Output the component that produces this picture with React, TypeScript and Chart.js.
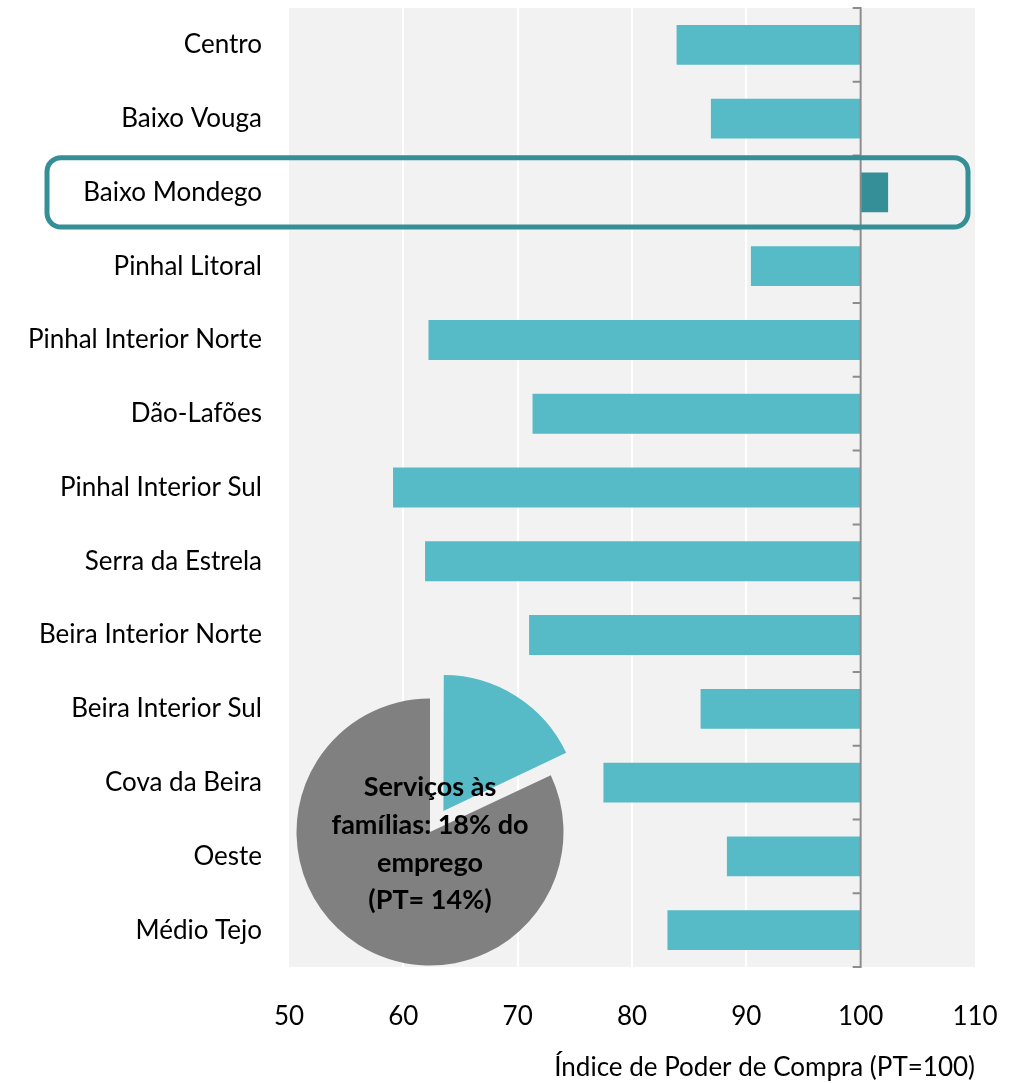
import React, { useEffect, useRef } from "react";
import { Chart, registerables } from "chart.js";

Chart.register(...registerables);

const categories = [
  "Centro",
  "Baixo Vouga",
  "Baixo Mondego",
  "Pinhal Litoral",
  "Pinhal Interior Norte",
  "Dão-Lafões",
  "Pinhal Interior Sul",
  "Serra da Estrela",
  "Beira Interior Norte",
  "Beira Interior Sul",
  "Cova da Beira",
  "Oeste",
  "Médio Tejo",
];
const indexValues = [83.9, 86.9, 102.4, 90.4, 62.2, 71.3, 59.1, 61.9, 71.0, 86.0, 77.5, 88.3, 83.1];
const baseline = 100;
const highlighted = "Baixo Mondego";
const xTicks = [50, 60, 70, 80, 90, 100, 110];
const axisTitle = "Índice de Poder de Compra (PT=100)";

const pieLabels = ["Serviços às famílias", "Outros"];
const pieValues = [18, 82];
const pieText = ["Serviços às", "famílias: 18% do", "emprego", "(PT= 14%)"];

const TEAL = "#56BBC6";
const DARK_TEAL = "#358F96";
const GREY = "#808080";
const FAMILY = "Lato, 'Open Sans', sans-serif";

export default function App() {
  const barRef = useRef<HTMLCanvasElement | null>(null);
  const pieRef = useRef<HTMLCanvasElement | null>(null);

  useEffect(() => {
    document.body.style.margin = "0";
    document.body.style.overflow = "hidden";

    const bgPlugin = {
      id: "bg",
      beforeDraw(chart: any) {
        const { ctx, chartArea } = chart;
        ctx.save();
        ctx.fillStyle = "#F2F2F2";
        ctx.fillRect(chartArea.left, chartArea.top, chartArea.right - chartArea.left, chartArea.bottom - chartArea.top);
        ctx.restore();
      },
    };

    const axisPlugin = {
      id: "axis100",
      afterDatasetsDraw(chart: any) {
        const { ctx, chartArea, scales } = chart;
        const x = scales.x.getPixelForValue(baseline);
        ctx.save();
        ctx.strokeStyle = "#8C8C8C";
        ctx.lineWidth = 2;
        ctx.beginPath();
        ctx.moveTo(x, chartArea.top);
        ctx.lineTo(x, chartArea.bottom);
        for (let i = 0; i <= categories.length; i++) {
          const y = scales.y.getPixelForValue(i - 0.5);
          ctx.moveTo(x + 1, y);
          ctx.lineTo(x - 8, y);
        }
        ctx.stroke();

        // highlight box
        const idx = categories.indexOf(highlighted);
        const yc = scales.y.getPixelForValue(idx);
        const band = Math.abs(scales.y.getPixelForValue(1) - scales.y.getPixelForValue(0));
        const half = band * 0.47;
        const left = 47;
        const right = chartArea.right - 7;
        ctx.strokeStyle = DARK_TEAL;
        ctx.lineWidth = 5;
        ctx.beginPath();
        (ctx as any).roundRect(left, yc - half, right - left, half * 2, 14);
        ctx.stroke();
        ctx.restore();
      },
    };

    const font = { family: FAMILY, size: 26 };

    const bar = new Chart(barRef.current as HTMLCanvasElement, {
      type: "bar",
      data: {
        labels: categories,
        datasets: [
          {
            data: indexValues.map((v) => [Math.min(v, baseline), Math.max(v, baseline)]) as any,
            backgroundColor: categories.map((c) => (c === highlighted ? DARK_TEAL : TEAL)),
            borderWidth: 0,
            barPercentage: 0.54,
            categoryPercentage: 1,
          },
        ],
      },
      options: {
        indexAxis: "y",
        animation: false,
        responsive: false,
        maintainAspectRatio: false,
        layout: { padding: { top: 8, right: 38, left: 0, bottom: 0 } },
        plugins: { legend: { display: false }, tooltip: { enabled: false } },
        scales: {
          x: {
            type: "linear",
            min: 50,
            max: 110,
            afterBuildTicks: (s: any) => {
              s.ticks = xTicks.map((v) => ({ value: v }));
            },
            afterFit: (s: any) => {
              s.height = 116;
              s.paddingLeft = 0;
              s.paddingRight = 0;
            },
            grid: {
              color: (ctx: any) =>
                ctx.tick && (ctx.tick.value === 50 || ctx.tick.value === 110) ? "rgba(0,0,0,0)" : "#FFFFFF",
              lineWidth: 2,
              drawTicks: false,
            },
            border: { display: false },
            ticks: { font, color: "#000000", padding: 34 },
            title: {
              display: true,
              text: axisTitle,
              align: "end",
              font,
              color: "#000000",
              padding: { top: 0, bottom: 0 },
            },
          },
          y: {
            afterFit: (s: any) => {
              s.width = 289;
              s.paddingTop = 0;
              s.paddingBottom = 0;
            },
            grid: { display: false, drawTicks: false },
            border: { display: false },
            ticks: { font, color: "#000000", padding: 27 },
          },
        },
      } as any,
      plugins: [bgPlugin, axisPlugin],
    });

    const textPlugin = {
      id: "pieText",
      afterDraw(chart: any) {
        const { ctx } = chart;
        const cx = (chart.chartArea.left + chart.chartArea.right) / 2;
        const cy = (chart.chartArea.top + chart.chartArea.bottom) / 2;
        ctx.save();
        ctx.fillStyle = "#000000";
        ctx.font = `bold 27px ${FAMILY}`;
        ctx.textAlign = "center";
        ctx.textBaseline = "middle";
        const lh = 37.7;
        pieText.forEach((line, i) => {
          ctx.fillText(line, cx, cy + 12 + (i - (pieText.length - 1) / 2) * lh);
        });
        ctx.restore();
      },
    };

    const pie = new Chart(pieRef.current as HTMLCanvasElement, {
      type: "pie",
      data: {
        labels: pieLabels,
        datasets: [
          {
            data: pieValues,
            backgroundColor: [TEAL, GREY],
            borderWidth: 0,
            offset: [100, 0],
          } as any,
        ],
      },
      options: {
        animation: false,
        responsive: false,
        maintainAspectRatio: false,
        radius: 133.5,
        plugins: { legend: { display: false }, tooltip: { enabled: false } },
      } as any,
      plugins: [textPlugin],
    });

    return () => {
      bar.destroy();
      pie.destroy();
    };
  }, []);

  return (
    <div style={{ position: "relative", width: 1013, height: 1083, background: "#FFFFFF" }}>
      <canvas ref={barRef} width={1013} height={1083} style={{ position: "absolute", left: 0, top: 0, display: "block" }} />
      <canvas ref={pieRef} width={340} height={340} style={{ position: "absolute", left: 260, top: 662, display: "block" }} />
    </div>
  );
}
